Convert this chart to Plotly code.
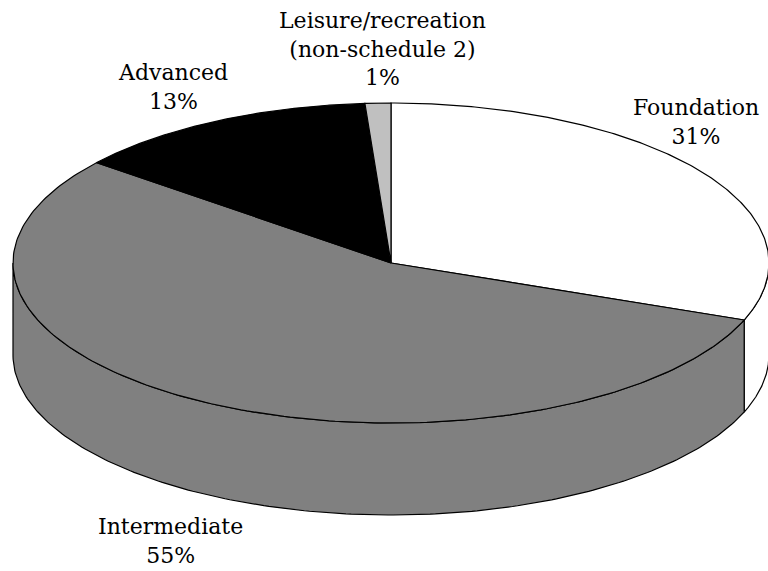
import numpy as np
import plotly.graph_objects as go

# ---- data ----
categories = ["Foundation", "Intermediate", "Advanced", "Leisure/recreation<br>(non-schedule 2)"]
values = [30.8, 55.0, 13.1, 1.1]
colors = ["#ffffff", "#808080", "#000000", "#c0c0c0"]

# ---- geometry (style) ----
CX, CY = 391.0, 263.0
RX, RY = 378.0, 160.0
DEPTH = 92.0
W, H = 768, 571

total = float(sum(values))
cum = np.concatenate([[0.0], np.cumsum(values)])
starts = 90.0 - 360.0 * cum[:-1] / total   # degrees, clockwise from 12 o'clock
ends = 90.0 - 360.0 * cum[1:] / total


def arc(a0, a1, dy=0.0, n=200):
    t = np.radians(np.linspace(a0, a1, n))
    return CX + RX * np.cos(t), CY - RY * np.sin(t) + dy


fig = go.Figure()

# side walls (front, lower half of the ellipse)
for s, e, c in zip(starts, ends, colors):
    for k in range(-2, 2):
        lo = max(e, 180 + 360 * k)
        hi = min(s, 360 + 360 * k)
        if hi - lo > 1e-6:
            xt, yt = arc(lo, hi)
            xb, yb = arc(hi, lo, DEPTH)
            xs = np.concatenate([xt, xb, xt[:1]])
            ys = np.concatenate([yt, yb, yt[:1]])
            fig.add_trace(go.Scatter(x=xs, y=ys, mode="lines", fill="toself",
                                     fillcolor=c, line=dict(color="black", width=1.2),
                                     hoverinfo="skip", showlegend=False))

# top faces
for s, e, c in zip(starts, ends, colors):
    xa, ya = arc(s, e)
    xs = np.concatenate([[CX], xa, [CX]])
    ys = np.concatenate([[CY], ya, [CY]])
    fig.add_trace(go.Scatter(x=xs, y=ys, mode="lines", fill="toself",
                             fillcolor=c, line=dict(color="black", width=1.2),
                             hoverinfo="skip", showlegend=False))

# labels
label_pos = [(696, 122), (170, 541), (173, 87), (382, 49)]
for cat, v, (lx, ly) in zip(categories, values, label_pos):
    fig.add_annotation(x=lx, y=ly, text=f"{cat}<br>{round(v / total * 100):.0f}%",
                       showarrow=False, xanchor="center", yanchor="middle",
                       font=dict(family="DejaVu Serif", size=22, color="black"))

fig.update_xaxes(range=[0, W], visible=False, fixedrange=True)
fig.update_yaxes(range=[H, 0], visible=False, fixedrange=True)
fig.update_layout(width=W, height=H, margin=dict(l=0, r=0, t=0, b=0),
                  plot_bgcolor="white", paper_bgcolor="white")

fig.write_html("out.html", config={"displayModeBar": False},
               post_script="document.body.style.margin='0';document.body.style.overflow='hidden';")
